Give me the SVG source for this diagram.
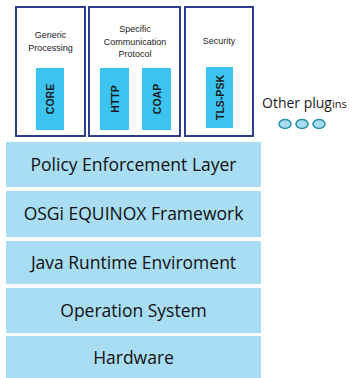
<svg xmlns="http://www.w3.org/2000/svg" width="352" height="378" viewBox="0 0 352 378">
<style>
.grp{fill:#ffffff;stroke:#2b3d8c;stroke-width:2}
.plug{fill:#3cc3f0}
.layer{fill:#a8ddf3}
.small{font-family:"Liberation Sans",Arial,sans-serif;font-size:9px;fill:#222;text-anchor:middle}
.pl{font-family:"Liberation Sans",Arial,sans-serif;font-size:10.5px;font-weight:bold;fill:#1a1a1a;text-anchor:middle}
.lt{font-family:"Open Sans","Noto Sans",sans-serif;font-size:17.5px;fill:#111;text-anchor:middle}
.dot{fill:#a8dcef;stroke:#2a8fa8;stroke-width:1.5}
</style>
<g id="generic">
<rect class="grp" x="16" y="7" width="69" height="129"/>
<text class="small" x="50.5" y="38">Generic</text>
<text class="small" x="50.5" y="51">Processing</text>
<rect class="plug" x="36" y="68" width="28" height="62"/>
<text class="pl" transform="translate(54,99) rotate(-90)">CORE</text>
</g>
<g id="specific">
<rect class="grp" x="89" y="7" width="91" height="129"/>
<text class="small" x="135" y="32">Specific</text>
<text class="small" x="135" y="45">Communication</text>
<text class="small" x="135" y="57">Protocol</text>
<rect class="plug" x="100" y="68" width="29" height="62"/>
<text class="pl" transform="translate(118.5,99) rotate(-90)">HTTP</text>
<rect class="plug" x="142" y="68" width="29" height="62"/>
<text class="pl" transform="translate(160.5,99) rotate(-90)">COAP</text>
</g>
<g id="security">
<rect class="grp" x="185" y="7" width="68" height="129"/>
<text class="small" x="219" y="44">Security</text>
<rect class="plug" x="206" y="67" width="27" height="61"/>
<text class="pl" transform="translate(223.5,97.5) rotate(-90)">TLS-PSK</text>
</g>
<g id="other">
<text x="262" y="108" font-family="'Open Sans','Noto Sans',sans-serif" font-size="14" fill="#1a1a1a">Other plug<tspan font-size="11">ins</tspan></text>
<ellipse class="dot" cx="285" cy="124" rx="6" ry="4.5"/>
<ellipse class="dot" cx="302" cy="124" rx="6" ry="4.5"/>
<ellipse class="dot" cx="319" cy="124" rx="6" ry="4.5"/>
</g>
<g id="policy">
<rect class="layer" x="6" y="142" width="255" height="45"/>
<text class="lt" x="133.5" y="171">Policy Enforcement Layer</text>
</g>
<g id="osgi">
<rect class="layer" x="6" y="191" width="255" height="46"/>
<text class="lt" x="133.5" y="220">OSGi EQUINOX Framework</text>
</g>
<g id="jre">
<rect class="layer" x="6" y="241" width="255" height="43"/>
<text class="lt" x="133.5" y="269">Java Runtime Enviroment</text>
</g>
<g id="os">
<rect class="layer" x="6" y="288" width="255" height="45"/>
<text class="lt" x="133.5" y="317">Operation System</text>
</g>
<g id="hw">
<rect class="layer" x="6" y="336" width="255" height="42"/>
<text class="lt" x="133.5" y="364">Hardware</text>
</g>
<g id="connectors"></g>
</svg>
